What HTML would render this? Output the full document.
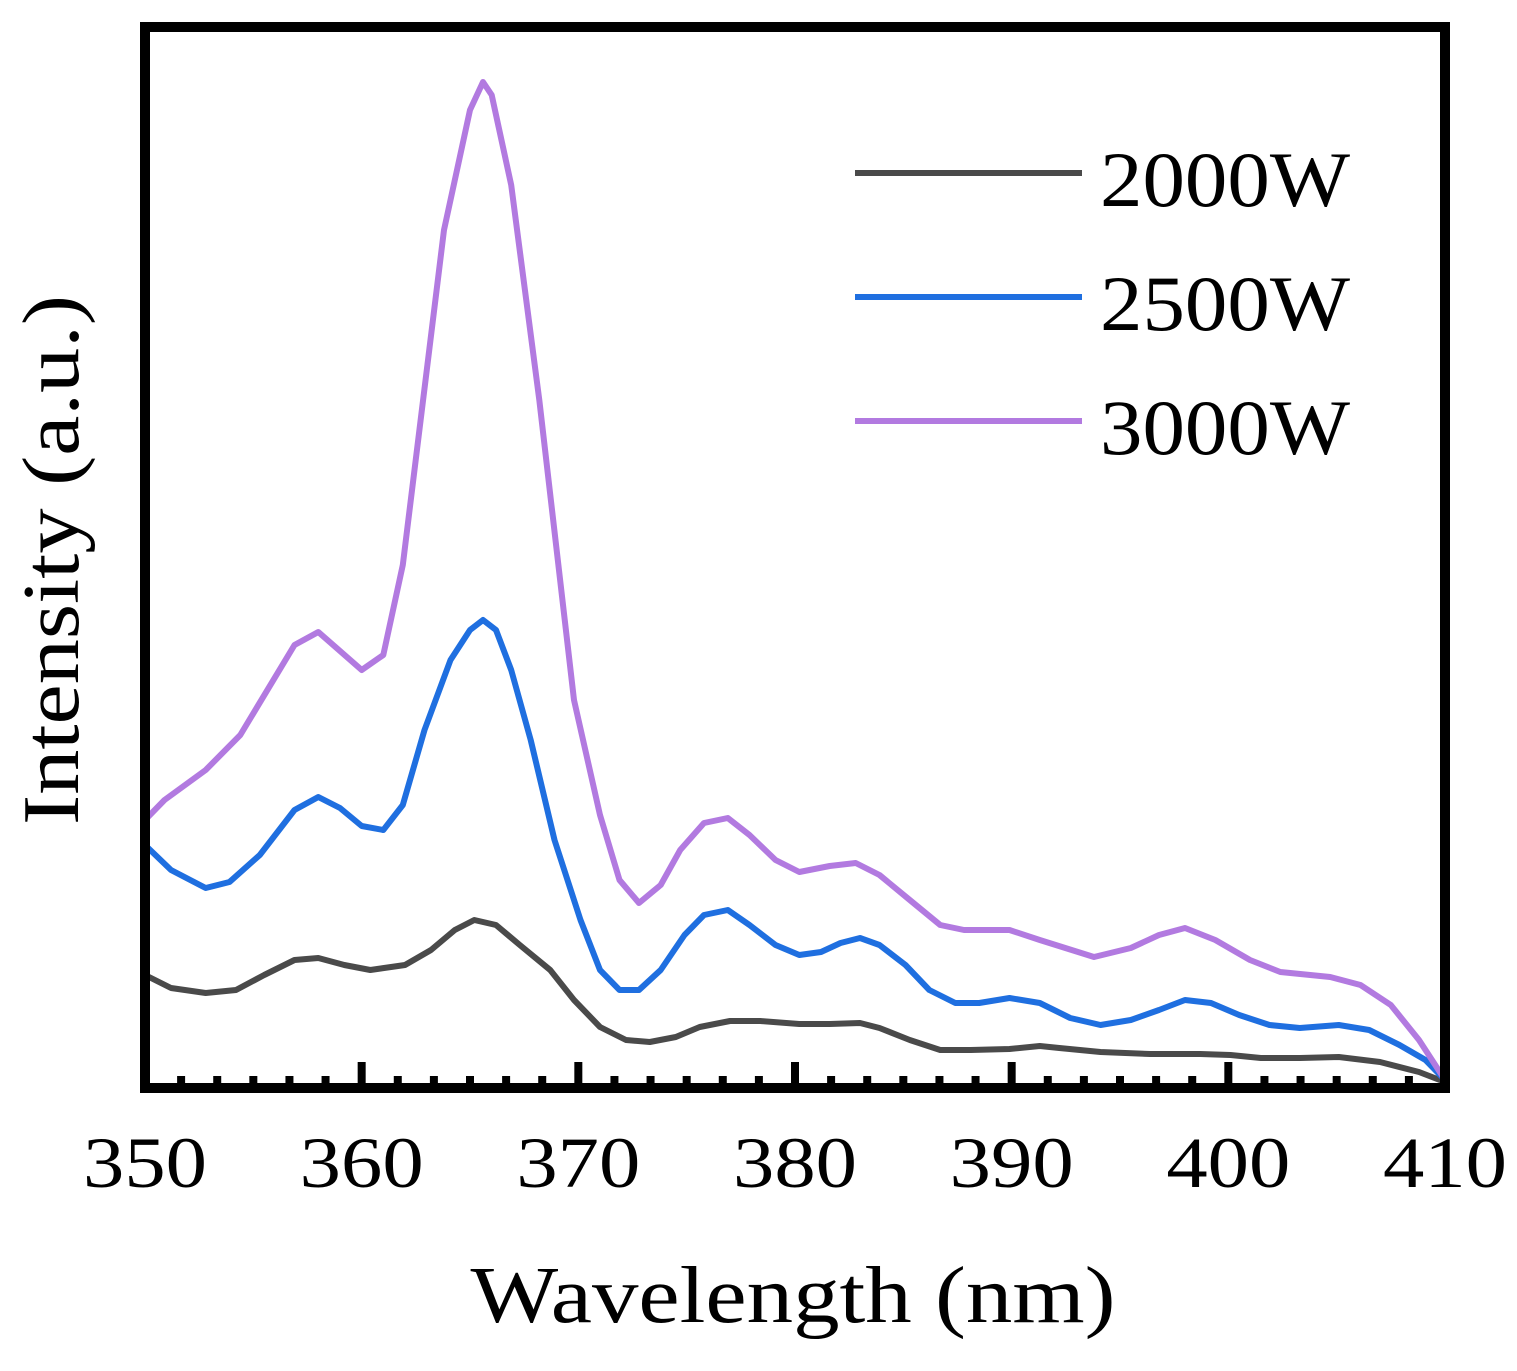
<!DOCTYPE html>
<html><head><meta charset="utf-8"><style>
html,body{margin:0;padding:0;background:#fff;}
svg{display:block;font-family:"Liberation Serif",serif;}
</style></head><body>
<svg id="chart" width="1517" height="1371" viewBox="0 0 1517 1371" xmlns="http://www.w3.org/2000/svg">
<g id="ticks"></g>
<g id="series"></g>
<rect x="145" y="27" width="1300" height="1061" fill="none" stroke="#000" stroke-width="10"/>
<g id="xlabels" font-size="72" text-anchor="middle"></g>
<text x="793" y="1322" font-size="80" text-anchor="middle" textLength="645" lengthAdjust="spacingAndGlyphs">Wavelength (nm)</text>
<text transform="translate(78,560) rotate(-90)" font-size="80" text-anchor="middle" textLength="530" lengthAdjust="spacingAndGlyphs">Intensity (a.u.)</text>
<g id="legend" font-size="78"></g>
</svg>
<script>
const xTicks=[350,360,370,380,390,400,410];
const seriesNames=["2000W","2500W","3000W"];
const seriesColors=["#4a4a4a","#1f6fe0","#b27ae0"];
const wl2000=[350,351.2,352.8,354.2,355.5,356.9,358.0,359.2,360.4,362.0,363.2,364.3,365.2,366.2,367.3,368.7,369.8,371.0,372.2,373.3,374.5,375.6,377.0,378.4,380.2,381.6,383.0,383.9,385.3,386.7,388.1,389.9,391.3,392.2,394.1,396.4,398.7,400.1,401.5,403.3,405.1,407.0,408.8,410];
const int2000=[110,97,92,95,110,125,127,120,115,120,135,155,165,160,140,115,85,58,45,43,48,58,64,64,61,61,62,57,45,35,35,36,39,37,33,31,31,30,27,27,28,23,13,3];
const wl2500=[350,351.2,352.8,353.9,355.3,356.9,358.0,359.0,360.0,361.0,361.9,362.9,364.1,365.0,365.6,366.2,366.9,367.8,368.9,370.1,371.0,371.9,372.8,373.8,374.9,375.8,376.9,377.9,379.1,380.2,381.2,382.1,383.0,383.9,385.1,386.2,387.4,388.5,389.9,391.3,392.7,394.1,395.5,396.8,398.0,399.2,400.5,401.9,403.3,405.1,406.5,407.9,409.1,410];
const int2500=[240,215,197,203,230,275,288,277,259,255,280,355,425,455,465,455,415,345,245,165,115,95,95,115,150,170,175,160,140,130,133,142,147,140,120,95,82,82,87,82,67,60,65,75,85,82,70,60,57,60,55,40,25,5];
const wl3000=[350.0,350.9,352.8,354.4,356.9,358.0,360.0,361.0,361.9,363.8,365.0,365.6,366.0,366.9,368.2,369.8,371.0,371.9,372.8,373.8,374.7,375.8,376.9,377.9,379.1,380.2,381.6,382.8,383.9,385.3,386.7,387.8,389.9,391.3,393.8,395.5,396.8,398.0,399.4,401.0,402.4,404.7,406.1,407.5,408.8,410];
const int3000=[265,285,315,350,440,453,415,430,520,855,975,1003,990,900,685,385,270,205,182,200,235,262,267,250,225,213,219,222,210,185,160,155,155,145,128,137,150,157,145,125,113,108,100,80,45,5];

const NS="http://www.w3.org/2000/svg";
const X0=145,X1=1445,Y0=1085,Y1=27;
function xs(v){return X0+(v-350)/(410-350)*(X1-X0);}
function ys(v){return Y0-(v-0)/(1058-0)*(Y0-Y1);}

const tg=document.getElementById('ticks');
const lg=document.getElementById('xlabels');
for(let i=0;i<xTicks.length;i++){
  const x=xs(xTicks[i]);
  const t=document.createElementNS(NS,'line');
  t.setAttribute('x1',x);t.setAttribute('x2',x);t.setAttribute('y1',1088);t.setAttribute('y2',1062);
  t.setAttribute('stroke','#000');t.setAttribute('stroke-width','8');
  
  
  tg.appendChild(t);
  if(i<xTicks.length-1){
    for(let k=1;k<6;k++){
      const mx=xs(xTicks[i]+(xTicks[i+1]-xTicks[i])*k/6);
      const m=document.createElementNS(NS,'line');
      m.setAttribute('x1',mx);m.setAttribute('x2',mx);m.setAttribute('y1',1088);m.setAttribute('y2',1076);
      m.setAttribute('stroke','#000');m.setAttribute('stroke-width','8');
      
      
      tg.appendChild(m);
    }
  }
  const l=document.createElementNS(NS,'text');
  l.setAttribute('x',x);l.setAttribute('y',1187);l.textContent=xTicks[i];
  l.setAttribute('textLength','124');l.setAttribute('lengthAdjust','spacingAndGlyphs');
  
  
  lg.appendChild(l);
}
const sg=document.getElementById('series');
const all=[[wl2000,int2000],[wl2500,int2500],[wl3000,int3000]];
all.forEach((s,i)=>{
  const d=s[0].map((w,j)=>(j?'L':'M')+xs(w).toFixed(1)+','+ys(s[1][j]).toFixed(1)).join(' ');
  const p=document.createElementNS(NS,'path');
  p.setAttribute('d',d);p.setAttribute('fill','none');p.setAttribute('stroke',seriesColors[i]);
  p.setAttribute('stroke-width','6');p.setAttribute('stroke-linejoin','round');
  
  
  sg.appendChild(p);
});
const leg=document.getElementById('legend');
seriesNames.forEach((n,i)=>{
  const y=173+i*124;
  const ln=document.createElementNS(NS,'line');
  ln.setAttribute('x1',855);ln.setAttribute('x2',1082);ln.setAttribute('y1',y);ln.setAttribute('y2',y);
  ln.setAttribute('stroke',seriesColors[i]);ln.setAttribute('stroke-width','6');
  
  
  leg.appendChild(ln);
  const t=document.createElementNS(NS,'text');
  t.setAttribute('x',1100);t.setAttribute('y',y+33);t.textContent=n;
  t.setAttribute('textLength','250');t.setAttribute('lengthAdjust','spacingAndGlyphs');
  
  
  leg.appendChild(t);
});
</script>
</body></html>
